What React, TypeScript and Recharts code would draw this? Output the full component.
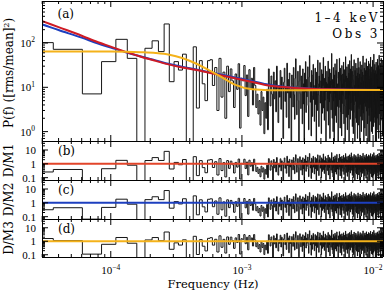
import { LineChart, Line, XAxis, YAxis, ReferenceLine } from "recharts"

// bin spacing of the periodogram (Hz); bin k sits at k * DF
const DF = 2.43e-5

// periodogram [rms/mean]^2, bins k = 1..41 (read bin by bin)
const powerLow = [
  102, 72, 7.1, 38, 121, 45, 0.3, 76, 112, 64, 269, 13.4, 38, 24.5, 56, 0.4, 0.3, 82, 3.4, 40,
  12, 5, 40, 42, 11, 28, 3, 45, 6, 22, 2, 30, 8, 26, 14, 3.5, 20, 9, 34, 1.2, 16,
]

// bins k = 42.. (dense part, estimated)
const powerHigh = [
  14, 31, 6.5, 19, 2.2, 25, 9, 16, 4, 28, 11, 3.5, 7, 2.5, 5, 1.4, 8, 3, 6, 0.9,
  4.5, 2, 9, 1.1, 26, 12, 3.8, 18, 7, 0.4, 22, 5.5, 14, 2.8, 30, 9.5, 1.6, 11, 6, 24,
  3.2, 17, 8.5, 0.7, 13, 27, 4.8, 10, 2.1, 35, 7.5, 15, 1.2, 21, 5.8, 9, 0.3, 19, 12, 3.6,
  28, 6.8, 1.9, 16, 44, 8, 2.4, 11, 23, 5, 0.6, 14, 31, 7.2, 3.3, 18, 9.8, 1.5, 26, 4.2,
  12, 0.5, 21, 7.8, 38, 2.7, 15, 6.1, 10, 29, 3.9, 1.1, 17, 52, 8.8, 4.6, 13, 0.8, 24, 6.4,
  2.2, 19, 33, 5.3, 11, 1.7, 9.2, 27, 4.1, 15, 0.4, 22, 7, 3, 41, 12, 6.7, 1.3, 18, 10,
  36, 4.4, 8.3, 14, 0.9, 25, 6.2, 2.6, 20, 11, 47, 3.4, 9.6, 1.8, 16, 5.1, 30, 7.7, 0.2, 13,
  8, 23, 2.9, 12, 5.6, 39, 1.4, 17, 10, 4.7, 26, 0.7, 14, 7.3, 21, 3.1, 11, 58, 6, 2,
  15, 9.1, 1, 28, 4.9, 13, 0.5, 19, 7.4, 34, 2.3, 10, 5.9, 24, 1.6, 16, 43, 8.4, 3.7, 12,
  6.6, 0.3, 22, 11, 3.5, 17, 45, 5.2, 9.4, 1.2, 27, 14, 2.8, 7.9, 19, 0.8, 31, 4.3, 12, 6.9,
  20, 2.5, 10, 37, 6.3, 1.5, 15, 8.7, 25, 3.8, 0.6, 13, 49, 5.4, 9.9, 2.1, 18, 7.1, 29, 4,
  1.1, 16, 11, 5.7, 33, 2.4, 8.9, 21, 0.4, 14, 6.8, 40, 3.2, 12, 1.9, 26, 9.3, 4.5, 17, 55,
  7.6, 3, 13, 23, 1.3, 10, 5, 30, 15, 0.9, 8.1, 2.7, 19, 42, 6.5, 11, 3.9, 0.2, 24, 9.7,
  14, 4.8, 35, 2, 18, 7.5, 1.6, 12, 27, 5.5, 9, 0.7, 21, 3.6, 46, 10, 6.2, 16, 1.4, 28,
  3.3, 11, 8.2, 20, 0.5, 15, 38, 4.1, 6.7, 13, 2.2, 25, 9.5, 1, 17, 5.8, 32, 12, 3.1, 7.8,
  22, 1.8, 10, 51, 6, 2.6, 14, 9.2, 0.3, 19, 4.4, 27, 11, 7, 1.2, 36, 15, 3.7, 8.6, 24,
  5.1, 13, 0.8, 18, 44, 7.3, 2.9, 10, 23, 4.6, 16, 1.5, 30, 8.3, 12, 0.4, 20, 6.1, 39, 3.4,
  9.8, 26, 2.3, 15, 5.3, 11, 0.6, 34, 7.9, 18, 3.5, 13, 48, 1.7, 9.4, 22, 4.2, 16, 6.6, 1,
  29, 7.2, 12, 2.8, 19, 0.9, 41, 5.6, 14, 10, 3.2, 25, 8.4, 1.3, 17, 56, 4.9, 11, 2.1, 21,
  6.3, 15, 33, 1.6, 9.1, 4, 24, 0.5, 13, 7.7, 18, 2.6, 37, 11, 5.2, 0.2, 20, 9.6, 3.3, 28,
  12, 2, 17, 43, 6.9, 10, 1.1, 23, 4.7, 15, 8, 31, 0.7, 14, 3.8, 19, 53, 7.4, 2.5, 11,
  4.3, 26, 9.3, 1.4, 16, 35, 5.9, 12, 0.4, 21, 7.6, 3, 18, 45, 10, 2.2, 13, 6.4, 27, 1.8,
  8.9, 14, 3.6, 22, 0.8, 17, 40, 6.8, 11, 2.7, 30, 5, 9.7, 1.2, 19, 7.1, 24, 3.9, 15, 50,
]

// model curves at these frequencies
const modelFreqs = [
  2.4e-5, 2.9e-5, 4e-5, 6e-5, 8e-5, 1e-4, 1.3e-4, 1.7e-4, 2.2e-4, 2.8e-4, 3.5e-4,
  4.5e-4, 5.5e-4, 7e-4, 9e-4, 1.2e-3, 1.6e-3, 2.2e-3, 3e-3, 4.5e-3, 7e-3, 1.25e-2,
]
const model1 = [400, 325, 228, 146, 104, 83, 63, 49, 39.5, 32.5, 28, 24.5, 21.5, 18.5, 15.8, 13.2, 11, 10, 9.4, 9, 8.8, 8.7]
const model2 = [325, 272, 196, 132, 97, 79, 62, 49.5, 40.5, 33.5, 29, 25.2, 22.3, 19.3, 16.5, 13.8, 11.4, 10.2, 9.5, 9.05, 8.8, 8.7]
const model3 = [64, 64, 64, 64, 64, 64, 63.5, 62, 59.5, 54.5, 46, 34, 25, 17, 11.2, 9, 8.6, 8.55, 8.6, 8.65, 8.7, 8.7]

const xTicks = [
  3e-5, 4e-5, 5e-5, 6e-5, 7e-5, 8e-5, 9e-5, 1e-4, 2e-4, 3e-4, 4e-4, 5e-4, 6e-4, 7e-4, 8e-4, 9e-4,
  1e-3, 2e-3, 3e-3, 4e-3, 5e-3, 6e-3, 7e-3, 8e-3, 9e-3, 1e-2,
]
const mainYTicks = [0.7, 0.8, 0.9, 1, 2, 3, 4, 5, 6, 7, 8, 9, 10, 20, 30, 40, 50, 60, 70, 80, 90, 100, 200, 300, 400, 500, 600, 700, 800]
const residYTicks = [0.07, 0.08, 0.09, 0.1, 0.2, 0.3, 0.4, 0.5, 0.6, 0.7, 0.8, 0.9, 1, 2, 3, 4, 5, 6, 7, 8, 9, 10, 20, 30, 40]

const RED = "#cf1b24"
const BLUE = "#1d3fbf"
const ORANGE = "#f4b21a"
const HIST = "#161616"
const TICK_FONT = "Liberation Serif"
const TITLE_FONT = "DejaVu Serif"

const xDomain: [number, number] = [2.99e-5, 0.0119]
const mainDomain: [number, number] = [0.614, 887]
const residDomain: [number, number] = [0.068, 44.7]

const power = [...powerLow, ...powerHigh]

// log-log reading of a model between its sampled points
function modelAt(f: number, vals: number[]) {
  let j = 0
  while (j < modelFreqs.length - 2 && f > modelFreqs[j + 1]) j++
  const t = Math.log(f / modelFreqs[j]) / Math.log(modelFreqs[j + 1] / modelFreqs[j])
  return Math.exp(Math.log(vals[j]) + t * Math.log(vals[j + 1] / vals[j]))
}

// histogram steps: each bin spans (k-0.5)DF .. (k+0.5)DF
const toSteps = (vals: number[]) =>
  vals.flatMap((p, i) => [
    { f: (i + 0.5) * DF, p },
    { f: (i + 1.5) * DF, p },
  ])

const ratio = (m: number[]) => power.map((p, i) => p / modelAt((i + 1) * DF, m))

const powerSteps = toSteps(power)
const resid1 = toSteps(ratio(model1))
const resid2 = toSteps(ratio(model2))
const resid3 = toSteps(ratio(model3))
const curve = (m: number[]) => modelFreqs.map((f, i) => ({ f, p: m[i] }))

const isDecade = (v: number) => Math.abs(Math.log10(v) - Math.round(Math.log10(v))) < 1e-6

function Pow10({ x, y, e, anchor }: { x: number; y: number; e: number; anchor: "middle" | "end" }) {
  return (
    <text x={x} y={y} textAnchor={anchor} fontFamily={TICK_FONT} fontSize={11} fill="#000">
      10
      <tspan dy={-4.5} fontSize={7.5}>
        {e < 0 ? `\u2212${-e}` : `${e}`}
      </tspan>
    </text>
  )
}

const bottomTick = (labels: boolean) => (p: any) => {
  const v = p.payload.value
  const major = isDecade(v)
  return (
    <g>
      <line x1={p.x} x2={p.x} y1={p.y} y2={p.y - (major ? 6 : 3)} stroke="#000" />
      {labels && major && <Pow10 x={p.x} y={p.y + 17} e={Math.round(Math.log10(v))} anchor="middle" />}
    </g>
  )
}

const topTick = (p: any) => {
  const major = isDecade(p.payload.value)
  return <line x1={p.x} x2={p.x} y1={p.y} y2={p.y + (major ? 6 : 3)} stroke="#000" />
}

const leftTick = (kind: "pow" | "plain") => (p: any) => {
  const v = p.payload.value
  const major = isDecade(v)
  return (
    <g>
      <line x1={p.x} x2={p.x + (major ? 6 : 3)} y1={p.y} y2={p.y} stroke="#000" />
      {major &&
        (kind === "pow" ? (
          <Pow10 x={p.x - 7} y={p.y + 4} e={Math.round(Math.log10(v))} anchor="end" />
        ) : (
          <text x={p.x - 6} y={p.y + 4} textAnchor="end" fontFamily={TICK_FONT} fontSize={11} fill="#000">
            {String(v)}
          </text>
        ))}
    </g>
  )
}

const rightTick = (p: any) => {
  const major = isDecade(p.payload.value)
  return <line x1={p.x} x2={p.x - (major ? 6 : 3)} y1={p.y} y2={p.y} stroke="#000" />
}

const frame = { stroke: "#000", shapeRendering: "crispEdges" }

// each axis takes 1px of room, so the plot box is margin + 1 on every side
function Panel(props: {
  top: number
  height: number
  marginBottom: number
  yDomain: [number, number]
  yTicks: number[]
  yKind: "pow" | "plain"
  xLabels: boolean
  children: any
}) {
  const { top, height, marginBottom, yDomain, yTicks, yKind, xLabels, children } = props
  return (
    <div style={{ position: "absolute", left: 0, top }}>
      <LineChart width={385} height={height} margin={{ top: 0, right: 1, bottom: marginBottom, left: 41 }}>
        <XAxis xAxisId="b" dataKey="f" type="number" scale="log" domain={xDomain} allowDataOverflow
          ticks={xTicks} interval={0} height={1} tickSize={0} tickMargin={0} tickLine={false}
          axisLine={frame} tick={bottomTick(xLabels)} />
        <XAxis xAxisId="t" orientation="top" dataKey="f" type="number" scale="log" domain={xDomain}
          allowDataOverflow ticks={xTicks} interval={0} height={1} tickSize={0} tickMargin={0}
          tickLine={false} axisLine={frame} tick={topTick} />
        <YAxis yAxisId="l" type="number" scale="log" domain={yDomain} allowDataOverflow ticks={yTicks}
          interval={0} width={1} tickSize={0} tickMargin={0} tickLine={false} axisLine={frame}
          tick={leftTick(yKind)} />
        <YAxis yAxisId="r" orientation="right" type="number" scale="log" domain={yDomain} allowDataOverflow
          ticks={yTicks} interval={0} width={1} tickSize={0} tickMargin={0} tickLine={false}
          axisLine={frame} tick={rightTick} />
        {children}
      </LineChart>
    </div>
  )
}

const histLine = (data: { f: number; p: number }[]) => (
  <Line xAxisId="b" yAxisId="l" data={data} dataKey="p" type="linear" stroke={HIST} strokeWidth={1}
    dot={false} activeDot={false} isAnimationActive={false} />
)

const modelLine = (m: number[], color: string, key: string) => (
  <Line key={key} xAxisId="b" yAxisId="l" data={curve(m)} dataKey="p" type="monotone" stroke={color}
    strokeWidth={2} dot={false} activeDot={false} isAnimationActive={false} />
)

const unity = (color: string) => (
  <ReferenceLine xAxisId="b" yAxisId="l" y={1} stroke={color} strokeWidth={2} />
)

export default function App() {
  const title = { fontFamily: TITLE_FONT, fill: "#000" }
  return (
    <div style={{ position: "absolute", left: 0, top: 0, width: 385, height: 291, background: "#fff" }}>
      <style>{".recharts-surface{overflow:visible}"}</style>
      <Panel top={0} height={142} marginBottom={0} yDomain={mainDomain} yTicks={mainYTicks} yKind="pow" xLabels={false}>
        {histLine(powerSteps)}
        {modelLine(model2, BLUE, "m2")}
        {modelLine(model1, RED, "m1")}
        {modelLine(model3, ORANGE, "m3")}
      </Panel>
      <Panel top={140} height={41} marginBottom={0} yDomain={residDomain} yTicks={residYTicks} yKind="plain" xLabels={false}>
        {histLine(resid1)}
        {unity("#e2452a")}
      </Panel>
      <Panel top={179} height={41} marginBottom={0} yDomain={residDomain} yTicks={residYTicks} yKind="plain" xLabels={false}>
        {histLine(resid2)}
        {unity(BLUE)}
      </Panel>
      <Panel top={218} height={73} marginBottom={33} yDomain={residDomain} yTicks={residYTicks} yKind="plain" xLabels={true}>
        {histLine(resid3)}
        {unity(ORANGE)}
      </Panel>

      <svg width={385} height={291} style={{ position: "absolute", left: 0, top: 0, pointerEvents: "none" }}>
        <text transform="translate(12.5,73) rotate(-90)" textAnchor="middle" fontSize={12} {...title}>
          P(f) ([rms/mean]<tspan dy={-4} fontSize={8}>2</tspan><tspan dy={4}>)</tspan>
        </text>
        <text transform="translate(12.5,160.5) rotate(-90)" textAnchor="middle" fontSize={12} {...title}>D/M1</text>
        <text transform="translate(12.5,199.5) rotate(-90)" textAnchor="middle" fontSize={12} {...title}>D/M2</text>
        <text transform="translate(12.5,238) rotate(-90)" textAnchor="middle" fontSize={12} {...title}>D/M3</text>
        <text x={213} y={288} textAnchor="middle" fontSize={11.5} {...title}>Frequency (Hz)</text>

        <text x={57.5} y={17.5} fontSize={12} {...title}>(a)</text>
        <text x={58} y={155} fontSize={12} {...title}>(b)</text>
        <text x={58} y={194} fontSize={12} {...title}>(c)</text>
        <text x={58} y={233} fontSize={12} {...title}>(d)</text>

        <text x={380} y={21.5} textAnchor="end" fontSize={12} letterSpacing={2.5} {...title}>1–4 keV</text>
        <text x={380} y={37.5} textAnchor="end" fontSize={12} letterSpacing={2.5} {...title}>Obs 3</text>
      </svg>
    </div>
  )
}
